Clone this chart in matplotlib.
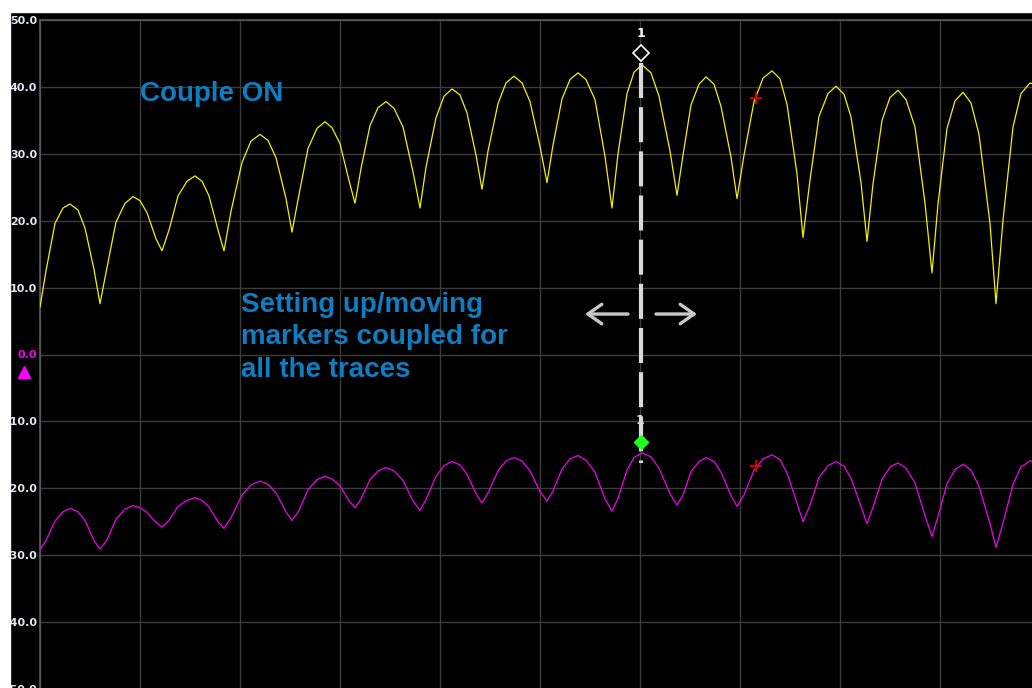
import numpy as np
import matplotlib.pyplot as plt
from matplotlib.patches import Rectangle

# shared sweep points (trace index), both traces sampled on the same points
x = [0, 6, 15, 23, 30, 38, 45, 54, 60, 67, 76, 85, 93, 100, 107, 116, 122,
     129, 138, 147, 155, 162, 169, 178, 184, 191, 202, 211, 220, 228, 236, 246,
     252, 259, 268, 277, 285, 292, 300, 309, 315, 321, 330, 338, 346, 354, 363,
     373, 380, 386, 396, 404, 412, 420, 427, 436, 442, 448, 458, 466, 474, 482,
     490, 500, 507, 513, 522, 530, 538, 546, 555, 565, 572, 578, 587, 594, 602,
     611, 619, 630, 637, 643, 651, 659, 666, 674, 681, 691, 697, 704, 714, 723,
     732, 740, 747, 757, 763, 770, 779, 788, 796, 804, 811, 821, 827, 833, 842,
     850, 858, 866, 875, 885, 892, 898, 907, 915, 923, 931, 939, 950, 956, 963,
     973, 981, 990, 995, 1000]

trace_yellow = [7.1, 12.5, 19.6, 21.9, 22.5, 21.6, 18.9, 12.7, 7.6, 13.0, 19.8, 22.6, 23.6,
                23.0, 21.2, 17.3, 15.5, 18.6, 23.7, 25.9, 26.7, 25.9, 23.7, 18.6, 15.5,
                21.4, 28.7, 31.9, 32.9, 32.0, 29.4, 23.3, 18.3, 23.9, 30.8, 33.8, 34.8,
                33.9, 31.5, 26.0, 22.6, 27.8, 34.2, 36.9, 37.8, 36.8, 34.0, 27.3, 21.9,
                28.0, 35.4, 38.6, 39.7, 38.8, 36.1, 29.8, 24.7, 30.4, 37.5, 40.6, 41.6,
                40.6, 37.8, 31.1, 25.7, 31.3, 38.2, 41.1, 42.1, 41.1, 38.1, 29.6, 21.9,
                30.0, 39.0, 42.2, 43.3, 42.1, 38.6, 30.4, 23.8, 29.8, 37.3, 40.4, 41.5,
                40.4, 37.1, 29.5, 23.3, 29.8, 37.8, 41.3, 42.4, 41.2, 37.4, 27.0, 17.5,
                26.1, 35.6, 39.0, 40.1, 38.9, 35.5, 25.7, 16.9, 25.5, 35.0, 38.4, 39.5,
                38.1, 34.0, 22.6, 12.2, 22.5, 33.8, 37.9, 39.2, 37.6, 32.9, 19.6, 7.6,
                20.1, 34.0, 39.0, 40.6, 40.3, 39.5]

trace_magenta = [-29.2, -27.8, -24.9, -23.5, -23.0, -23.5, -24.8, -27.8, -29.1, -27.7, -24.6,
                 -23.1, -22.6, -22.9, -23.6, -25.1, -25.8, -24.8, -22.7, -21.8, -21.4, -21.8,
                 -22.8, -25.0, -26.0, -24.4, -21.0, -19.5, -18.9, -19.4, -20.7, -23.5, -24.8,
                 -23.3, -20.2, -18.7, -18.2, -18.6, -19.6, -21.9, -22.9, -21.6, -18.7, -17.4,
                 -16.9, -17.4, -18.8, -21.9, -23.3, -21.7, -18.2, -16.6, -16.0, -16.5, -17.9,
                 -20.8, -22.2, -20.7, -17.4, -15.9, -15.4, -15.9, -17.4, -20.5, -21.9, -20.4,
                 -17.1, -15.6, -15.1, -15.8, -17.6, -21.6, -23.4, -21.5, -17.3, -15.4, -14.7,
                 -15.3, -17.0, -20.8, -22.5, -21.0, -17.5, -16.0, -15.4, -16.0, -17.6, -21.1,
                 -22.7, -21.0, -17.3, -15.6, -15.0, -15.7, -17.7, -22.2, -25.0, -22.5, -18.4,
                 -16.6, -16.0, -16.7, -18.5, -22.7, -25.3, -22.8, -18.7, -16.8, -16.2, -17.0,
                 -19.2, -24.1, -27.2, -24.2, -19.3, -17.2, -16.4, -17.3, -19.7, -25.3, -28.8,
                 -25.2, -19.4, -16.8, -15.9, -16.1, -16.6]

y_ticks = [50, 40, 30, 20, 10, 0, -10, -20, -30, -40, -50]
y_tick_labels = ['50.0', '40.0', '30.0', '20.0', '10.0', '0.0',
                 '-10.0', '-20.0', '-30.0', '-40.0', '-50.0']

# markers
marker_x = 601
marker_yellow = 45.1
marker_magenta = -13.1
cross_x = 716
cross_yellow = 38.3
cross_magenta = -16.7

fig = plt.figure(figsize=(10.32, 6.88), dpi=100, facecolor='black')
ax = fig.add_axes([40 / 1032, -1 / 688, 1000 / 1032, 669 / 688])
ax.set_facecolor('black')

ax.plot(x, trace_yellow, color='#f2f200', lw=0.9, zorder=3)
ax.plot(x, trace_magenta, color='#ee00ee', lw=0.9, zorder=3)

ax.set_xlim(0, 1000)
ax.set_ylim(-50, 50)
ax.set_xticks(np.arange(0, 1001, 100))
ax.set_xticklabels([])
ax.set_yticks(y_ticks)
ax.set_yticklabels(y_tick_labels)
ax.tick_params(axis='x', length=0)
ax.tick_params(axis='y', length=0, pad=2, labelsize=8, labelcolor='#dfe8f0')
for lab in ax.get_yticklabels():
    lab.set_fontweight('bold')
    if lab.get_text() == '0.0':
        lab.set_color('#ee00ee')
ax.grid(True, color='#3c3c3c', lw=1.0)
for side in ['left', 'top']:
    ax.spines[side].set_color('#5c5c5c')
    ax.spines[side].set_linewidth(1.2)
for side in ['right', 'bottom']:
    ax.spines[side].set_visible(False)

# reference level marker for the magenta trace
ax.plot([-0.016], [-2.6], marker='^', color='#ff00ff', ms=8,
        transform=ax.get_yaxis_transform(), clip_on=False)

# coupled marker line
ax.plot([marker_x, marker_x], [43.6, -16.2], color='#d8d8d8', lw=3,
        dashes=(8.4, 2.2), solid_capstyle='butt', zorder=5)
ax.plot(marker_x, marker_yellow, marker='D', ms=8, mfc='black', mec='white',
        mew=1.2, zorder=6)
ax.text(marker_x, 48.0, '1', color='white', fontsize=9, fontweight='bold',
        ha='center', va='center', zorder=6)
ax.text(marker_x - 1, -9.9, '1', color='#cfe0f0', fontsize=9, fontweight='bold',
        ha='center', va='center', zorder=4)
ax.plot(marker_x, marker_magenta, marker='D', ms=7, color='#22ff22', zorder=6)

ax.plot([cross_x, cross_x], [cross_yellow, cross_magenta], ls='none', marker='+',
        ms=9, mew=1.3, color='#e00000', zorder=6)

# move arrows
arrow_props = dict(arrowstyle='->,head_length=0.5,head_width=0.35', color='#c8c8c8',
                   lw=2.4, mutation_scale=20, shrinkA=0, shrinkB=0)
ax.annotate('', xy=(545, 6.05), xytext=(588, 6.05), arrowprops=arrow_props)
ax.annotate('', xy=(657, 6.05), xytext=(616, 6.05), arrowprops=arrow_props)

ax.text(100, 39.0, 'Couple ON', color='#0e7dc2', fontsize=20, fontweight='bold',
        family='Liberation Sans', ha='left', va='center')
ax.text(201, 2.6, 'Setting up/moving\nmarkers coupled for\nall the traces',
        color='#0e7dc2', fontsize=20, fontweight='bold', family='Liberation Sans',
        ha='left', va='center', linespacing=1.32)

# white frame on the left and top edge of the screenshot
fig.patches.append(Rectangle((0, 0), 10 / 1032, 1, transform=fig.transFigure,
                             color='white', zorder=10))
fig.patches.append(Rectangle((0, 1 - 12 / 688), 1, 12 / 688, transform=fig.transFigure,
                             color='white', zorder=10))

fig.savefig('out.png', dpi=100, facecolor='black')
